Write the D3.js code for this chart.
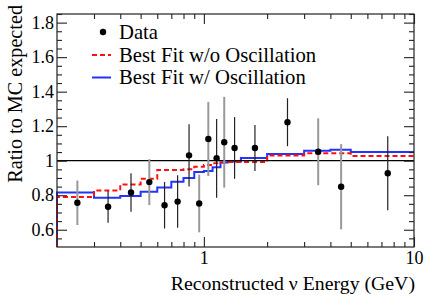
<!DOCTYPE html>
<html>
<head>
<meta charset="utf-8">
<script src="https://cdn.jsdelivr.net/npm/d3@7"></script>
<style>
  html, body { margin: 0; padding: 0; background: #fff; }
  svg { display: block; }
  svg text { font-family: "Liberation Serif", "Times New Roman", "DejaVu Serif", serif !important; }
</style>
</head>
<body>
<svg id="chart" width="436" height="295"></svg>
<script>
// ---- data ----
const energy = [0.25, 0.35, 0.45, 0.55, 0.65, 0.75, 0.85, 0.95, 1.05, 1.15, 1.25, 1.4, 1.75, 2.5, 3.5, 4.5, 7.5];
const ratio  = [0.756, 0.733, 0.816, 0.876, 0.742, 0.763, 1.031, 0.752, 1.126, 1.014, 1.107, 1.074, 1.074, 1.223, 1.052, 0.849, 0.927];
const ratioErr = [0.129, 0.092, 0.112, 0.133, 0.135, 0.152, 0.180, 0.167, 0.215, 0.228, 0.263, 0.179, 0.133, 0.139, 0.194, 0.247, 0.214];
const errGroup = [1, 0, 0, 1, 0, 0, 0, 1, 1, 0, 1, 0, 0, 0, 1, 1, 0];
const binEdges = [0.2, 0.3, 0.4, 0.5, 0.6, 0.7, 0.8, 0.9, 1.0, 1.1, 1.2, 1.3, 1.5, 2, 3, 4, 5, 10];
const fitNoOsc = [0.790, 0.828, 0.862, 0.895, 0.946, 0.946, 0.950, 0.965, 0.975, 0.985, 0.990, 0.992, 0.992, 1.030, 1.043, 1.043, 1.027];
const fitOsc   = [0.816, 0.785, 0.795, 0.820, 0.845, 0.878, 0.900, 0.935, 0.940, 0.962, 0.990, 0.995, 1.016, 1.039, 1.058, 1.063, 1.051];
const xMajorTicks = [1, 10];
const xMinorTicks = [0.3, 0.4, 0.5, 0.6, 0.7, 0.8, 0.9, 2, 3, 4, 5, 6, 7, 8, 9];
const yMajorTicks = [0.6, 0.8, 1.0, 1.2, 1.4, 1.6, 1.8];
const yMinorTicks = [0.55, 0.65, 0.7, 0.75, 0.85, 0.9, 0.95, 1.05, 1.1, 1.15, 1.25, 1.3, 1.35, 1.45, 1.5, 1.55, 1.65, 1.7, 1.75, 1.85];
const legendLabels = ["Data", "Best Fit w/o Oscillation", "Best Fit w/ Oscillation"];
const xTitle = "Reconstructed \u03bd Energy (GeV)";
const yTitle = "Ratio to MC expected";

// ---- layout ----
const FONT = '"Liberation Serif", "Times New Roman", "DejaVu Serif", serif';
const L = 57, R = 414, T = 14, B = 247;
const svg = d3.select("#chart");
const x = d3.scaleLog().domain([0.2, 10]).range([L, R]);
const y = d3.scaleLinear().domain([0.5, 1.85]).range([B, T]);

const plot = svg.append("g");

// step histogram paths
function stepPath(vals) {
  const p = [[x(binEdges[0]), y(0.5)]];
  vals.forEach((v, i) => {
    p.push([x(binEdges[i]), y(v)]);
    p.push([x(binEdges[i + 1]), y(v)]);
  });
  return d3.line()(p);
}

plot.append("path").attr("d", stepPath(fitOsc))
  .attr("fill", "none").attr("stroke", "#2233ff").attr("stroke-width", 2);
plot.append("path").attr("d", stepPath(fitNoOsc))
  .attr("fill", "none").attr("stroke", "#ff1010").attr("stroke-width", 2)
  .attr("stroke-dasharray", "5,3");

// unity line
plot.append("line")
  .attr("x1", L).attr("x2", R).attr("y1", y(1)).attr("y2", y(1))
  .attr("stroke", "#000").attr("stroke-width", 1.2);

// error bars and points
const pts = energy.map((e, i) => ({ e, r: ratio[i], err: ratioErr[i], g: errGroup[i] }));
plot.selectAll(".eb").data(pts).enter().append("line")
  .attr("x1", d => x(d.e)).attr("x2", d => x(d.e))
  .attr("y1", d => y(d.r - d.err)).attr("y2", d => y(d.r + d.err))
  .attr("stroke", d => d.g ? "#999" : "#222")
  .attr("stroke-width", d => d.g ? 2 : 1.2);
plot.selectAll(".pt").data(pts).enter().append("circle")
  .attr("cx", d => x(d.e)).attr("cy", d => y(d.r)).attr("r", 3.2)
  .attr("fill", "#000");

// frame
svg.append("rect").attr("x", L).attr("y", T).attr("width", R - L).attr("height", B - T)
  .attr("fill", "none").attr("stroke", "#222").attr("stroke-width", 1.2);

// axes
function styleAxis(g) {
  g.attr("font-family", FONT);
  g.select(".domain").remove();
  g.selectAll(".tick line").attr("stroke", "#222").attr("stroke-width", 1.1);
}
const tickFont = 18;
svg.append("g").attr("transform", `translate(0,${B})`)
  .call(d3.axisBottom(x).tickValues(xMajorTicks).tickSize(-10).tickPadding(4.5).tickFormat(d3.format("d")))
  .call(styleAxis)
  .call(g => g.selectAll("text").attr("font-size", tickFont).attr("font-family", FONT).attr("fill", "#000"));
svg.append("g").attr("transform", `translate(0,${B})`)
  .call(d3.axisBottom(x).tickValues(xMinorTicks).tickSize(-5).tickFormat(""))
  .call(styleAxis);
svg.append("g").attr("transform", `translate(0,${T})`)
  .call(d3.axisTop(x).tickValues(xMajorTicks).tickSize(-10).tickFormat(""))
  .call(styleAxis);
svg.append("g").attr("transform", `translate(0,${T})`)
  .call(d3.axisTop(x).tickValues(xMinorTicks).tickSize(-5).tickFormat(""))
  .call(styleAxis);

svg.append("g").attr("transform", `translate(${L},0)`)
  .call(d3.axisLeft(y).tickValues(yMajorTicks).tickSize(-10).tickPadding(3).tickFormat(d3.format("~g")))
  .call(styleAxis)
  .call(g => g.selectAll("text").attr("font-size", tickFont).attr("font-family", FONT).attr("fill", "#000"));
svg.append("g").attr("transform", `translate(${L},0)`)
  .call(d3.axisLeft(y).tickValues(yMinorTicks).tickSize(-5).tickFormat(""))
  .call(styleAxis);
svg.append("g").attr("transform", `translate(${R},0)`)
  .call(d3.axisRight(y).tickValues(yMajorTicks).tickSize(-10).tickFormat(""))
  .call(styleAxis);
svg.append("g").attr("transform", `translate(${R},0)`)
  .call(d3.axisRight(y).tickValues(yMinorTicks).tickSize(-5).tickFormat(""))
  .call(styleAxis);

// titles
svg.append("text").attr("x", 415).attr("y", 289.5).attr("text-anchor", "end")
  .attr("font-family", FONT).attr("font-size", 19.8).text(xTitle);
svg.append("text").attr("transform", "translate(22,5) rotate(-90)")
  .attr("text-anchor", "end").attr("font-family", FONT).attr("font-size", 20.2).text(yTitle);

// legend
const lg = svg.append("g");
const rowY = [32, 55, 77.5];
lg.append("circle").attr("cx", 103).attr("cy", rowY[0]).attr("r", 3.2).attr("fill", "#000");
lg.append("line").attr("x1", 92).attr("x2", 111).attr("y1", rowY[1]).attr("y2", rowY[1])
  .attr("stroke", "#ff1010").attr("stroke-width", 2).attr("stroke-dasharray", "5,3");
lg.append("line").attr("x1", 92).attr("x2", 111).attr("y1", rowY[2]).attr("y2", rowY[2])
  .attr("stroke", "#2233ff").attr("stroke-width", 2);
legendLabels.forEach((t, i) => {
  lg.append("text").attr("x", 119).attr("y", rowY[i] + 6.8)
    .attr("font-family", FONT).attr("font-size", 20.7).text(t);
});
</script>
</body>
</html>
